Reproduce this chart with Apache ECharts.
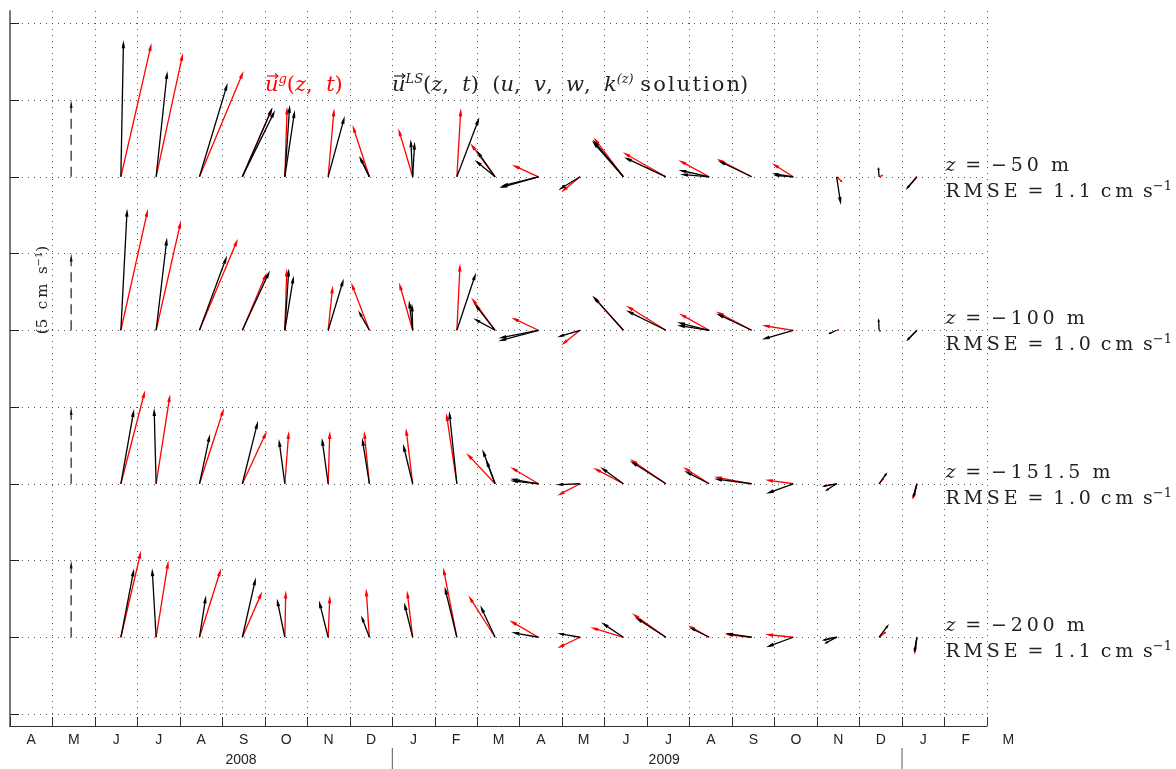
<!DOCTYPE html>
<html><head><meta charset="utf-8">
<script src="https://cdn.jsdelivr.net/npm/echarts@6/dist/echarts.min.js"></script>
<style>html,body{margin:0;padding:0;background:#fff}#c{width:1176px;height:769px}</style>
</head><body><div id="c"></div>
<script>
// ---------- data ----------
const monthLabels = ['A','M','J','J','A','S','O','N','D','J','F','M','A','M','J','J','A','S','O','N','D','J','F','M'];
const yearLabels = ['2008','2009'];
const yearLabelPos = [5.44, 15.4];          // months since 1 Apr 2008
const yearBreaks = [9, 21];                 // 1 Jan 2009, 1 Jan 2010
const sampleTimes = [2.61,3.44,4.46,5.47,6.47,7.49,8.46,9.48,10.52,11.42,12.44,13.42,14.44,15.44,16.46,17.46,18.44,19.46,20.46,21.35];
const depthLabels = ['\u221250','\u2212100','\u2212151.5','\u2212200'];
const rmseLabels = ['1.1','1.0','1.0','1.1'];
const scaleArrowTime = 1.44;
const scaleArrowSpeed = 5;                  // cm/s

// z = -50 m  (u east, v north, cm/s)
const geoU_50 = [2.0,1.75,2.88,1.95,0.15,0.39,-1.1,-0.94,0.26,-1.62,-1.73,-1.23,-1.95,-2.81,-2.01,-2.27,-1.4,0.39,0.26,-0.7];
const geoV_50 = [8.72,8.07,6.9,4.5,4.57,4.46,3.38,3.16,4.46,2.19,0.78,-1.01,2.58,1.6,1.1,1.17,0.89,-0.36,0.11,-0.82];
const lsU_50 = [0.17,0.73,1.84,1.97,0.32,1.08,-0.67,-0.13,1.47,-1.23,-2.55,-1.41,-2.01,-2.73,-2.01,-2.21,-1.4,0.28,-0.05,-0.73];
const lsV_50 = [8.9,6.9,6.12,4.53,4.68,3.96,1.36,2.45,3.88,1.75,-0.73,-0.86,2.43,1.28,0.45,1.06,0.22,-1.84,0.63,-0.86];
const ls2U_50 = [null,null,null,2.14,0.65,null,-0.62,0.13,null,-1.34,-2.49,null,-2.05,null,-1.9,null,-1.3,null,null,null];
const ls2V_50 = [null,null,null,4.35,4.35,null,1.3,2.29,null,1.1,-0.63,null,2.35,null,0.17,null,0.1,null,null,null];

// z = -100 m
const geoU_100 = [1.77,1.62,2.51,1.6,0.13,0.3,-1.19,-0.89,0.21,-1.56,-1.77,-1.23,-1.97,-2.6,-1.97,-2.32,-2.05,0.15,0.1,-0.69];
const geoV_100 = [7.92,7.14,5.97,3.77,4.03,2.92,3.12,3.12,4.35,2.14,0.84,-0.97,2.21,1.62,1.1,1.23,0.32,0.03,-0.1,-0.71];
const lsU_100 = [0.41,0.71,1.8,1.8,0.26,1.02,-0.73,-0.24,1.25,-1.36,-2.62,-1.49,-2.03,-2.6,-2.1,-2.32,-2.05,-0.55,-0.04,-0.69];
const lsV_100 = [7.92,6.04,4.87,3.9,4.03,3.38,1.3,1.95,3.77,1.75,-0.71,-0.45,2.27,1.3,0.52,1.1,-0.6,-0.25,0.78,-0.71];
const ls2U_100 = [null,null,null,null,0.58,null,null,-0.05,null,-1.43,-2.6,null,null,null,-2.1,null,null,null,null,null];
const ls2V_100 = [null,null,null,null,3.57,null,null,1.75,null,0.78,-0.52,null,null,null,0.33,null,null,null,null,null];

// z = -151.5 m
const geoU_151 = [1.58,0.91,1.6,1.6,0.26,0.11,-0.34,-0.44,-0.69,-1.88,-1.84,-1.49,-1.97,-2.34,-1.71,-2.45,-1.84,-0.65,0.32,-0.3];
const geoV_151 = [6.1,5.84,4.94,3.44,3.44,3.44,3.44,3.64,4.61,2.01,1.1,-0.78,1.04,1.62,1.1,0.45,0.26,-0.11,0.39,-1.04];
const lsU_151 = [0.86,-0.13,0.69,1.02,-0.39,-0.41,-0.47,-0.63,-0.5,-0.84,-1.84,-1.56,-1.51,-2.34,-1.64,-2.45,-1.78,-0.97,0.54,-0.26];
const lsV_151 = [4.87,4.94,3.25,4.1,2.92,2.99,2.99,2.6,4.74,2.27,0.32,-0.06,1.1,1.49,0.84,0.32,-0.65,-0.18,0.75,-0.97];
const ls2U_151 = [null,null,null,null,null,null,null,null,null,-0.6,-1.84,null,null,null,null,null,null,-0.76,null,-0.2];
const ls2V_151 = [null,null,null,null,null,null,null,null,null,1.6,0.2,null,null,null,null,null,null,-0.48,null,-0.9];

// z = -200 m
const geoU_200 = [1.32,0.8,1.41,1.3,0.06,0.11,-0.21,-0.37,-0.89,-1.75,-1.9,-1.49,-2.16,-2.21,-1.38,-1.73,-1.84,-0.65,0.48,-0.15];
const geoV_200 = [5.65,5.0,4.48,3.0,3.05,2.73,3.18,3.05,4.55,2.73,1.1,-0.71,0.65,1.56,0.78,0.19,0.19,-0.11,0.37,-1.14];
const lsU_200 = [0.86,-0.26,0.43,0.88,-0.52,-0.6,-0.54,-0.56,-0.8,-0.97,-1.77,-1.49,-1.45,-2.01,-1.32,-1.73,-1.78,-0.97,0.65,-0.19];
const lsV_200 = [4.48,4.5,2.73,3.9,2.53,2.4,1.43,2.27,3.3,2.08,0.32,0.26,0.97,1.3,0.65,0.26,-0.65,-0.21,0.87,-1.01];
const ls2U_200 = [null,null,null,null,null,null,null,null,null,null,null,null,null,null,null,null,null,-0.82,null,-0.12];
const ls2V_200 = [null,null,null,null,null,null,null,null,null,null,null,null,null,null,null,null,null,-0.43,null,-0.95];

// ---------- build ----------
const ROW_BASE = [35, 25, 15, 5];  // baseline of each depth panel, in axis units (cm/s)
const rows = [
  [geoU_50, geoV_50, lsU_50, lsV_50, ls2U_50, ls2V_50],
  [geoU_100, geoV_100, lsU_100, lsV_100, ls2U_100, ls2V_100],
  [geoU_151, geoV_151, lsU_151, lsV_151, ls2U_151, ls2V_151],
  [geoU_200, geoV_200, lsU_200, lsV_200, ls2U_200, ls2V_200]
];
const arrowData = [];
rows.forEach((r, ri) => {
  sampleTimes.forEach((t, i) => {
    arrowData.push([t, ri, r[0][i], r[1][i], 0]);
  });
  sampleTimes.forEach((t, i) => {
    arrowData.push([t, ri, r[2][i], r[3][i], 1]);
    if (r[4][i] != null) arrowData.push([t, ri, r[4][i], r[5][i], 1]);
  });
});

function arrowShape(x0, y0, x1, y1, color, lw, maxHead) {
  const dx = x1 - x0, dy = y1 - y0;
  const L = Math.hypot(dx, dy) || 1;
  const ux = dx / L, uy = dy / L;
  const hl = Math.min(maxHead, L * 0.3), hw = Math.max(1.2, hl * 0.22);
  const bx = x1 - ux * hl, by = y1 - uy * hl;
  return [
    {type: 'line', shape: {x1: x0, y1: y0, x2: x1 - ux * hl * 0.5, y2: y1 - uy * hl * 0.5},
     style: {stroke: color, lineWidth: lw}},
    {type: 'polygon', shape: {points: [[x1, y1], [bx - uy * hw, by + ux * hw], [bx + uy * hw, by - ux * hw]]},
     style: {fill: color}}
  ];
}
// letter spacing to imitate the wide TeX setting
const sp = s => s.split('').join('\u2009');
const hsp = s => s.split('').join('\u200A');
const EQ = '\u2009 = \u2009';

const serif = 'DejaVu Serif';
const chart = echarts.init(document.getElementById('c'), null, {renderer: 'canvas'});
const dotted = {type: [1, 5], color: '#555', width: 1};

function titleRich(color) {
  return {
    u: {fontFamily: serif, fontStyle: 'italic', fontSize: 21, lineHeight: 26, fill: color},
    n: {fontFamily: serif, fontSize: 21, lineHeight: 26, fill: color},
    s: {fontFamily: serif, fontStyle: 'italic', fontSize: 13, lineHeight: 14, verticalAlign: 'top', fill: color}
  };
}
function vecMark(x, y, color) {
  return {type: 'group', z: 10, children: [
    {type: 'line', shape: {x1: x, y1: y, x2: x + 10, y2: y}, style: {stroke: color, lineWidth: 1.2}},
    {type: 'polyline', shape: {points: [[x + 8, y - 2.5], [x + 11, y], [x + 8, y + 2.5]]}, style: {stroke: color, lineWidth: 1.2, fill: null}}
  ]};
}

chart.setOption({
  animation: false,
  backgroundColor: '#fff',
  grid: [
    {left: 10, right: 189, top: 11, bottom: 43},
    {left: 10, right: 189, top: 23.3, bottom: 55}
  ],
  xAxis: [
    {gridIndex: 0, type: 'value', min: 0, max: 23, interval: 1,
     axisLine: {show: true, onZero: false, lineStyle: {color: '#333', width: 1}},
     axisTick: {show: true, inside: true, length: 9, lineStyle: {color: '#333'}},
     axisLabel: {show: true, formatter: v => monthLabels[Math.round(v)] || '', color: '#222',
       fontFamily: 'Liberation Sans', fontSize: 14, margin: 7, padding: [0, 0, 0, 42.5],
       showMinLabel: true, showMaxLabel: true, hideOverlap: false},
     splitLine: {show: true, lineStyle: dotted}},
    {gridIndex: 1, type: 'value', min: 0, max: 23, show: false}
  ],
  yAxis: [
    {gridIndex: 0, type: 'value', min: -0.78, max: 45.83,
     axisLine: {show: true, onZero: false, lineStyle: {color: '#7a7a7a', width: 2}},
     axisTick: {show: false}, axisLabel: {show: false}, splitLine: {show: false}},
    {gridIndex: 1, type: 'value', min: 0, max: 45, interval: 5,
     axisLine: {show: false},
     axisTick: {show: true, inside: true, length: 9, lineStyle: {color: '#222'}},
     axisLabel: {show: false},
     splitLine: {show: true, lineStyle: dotted}}
  ],
  graphic: [
    {type: 'text', left: 265, top: 73, z: 10,
     style: {text: '{u|u}{s|g}{n|(}{u|z}{n|,  }{u|t}{n|)}', fill: '#ff0000', rich: titleRich('#ff0000')}},
    vecMark(267, 76, '#ff0000'),
    {type: 'text', left: 392, top: 73, z: 10,
     style: {text: '{u|u}{s|LS}{n|(}{u|z}{n|,  }{u|t}{n|)  (}{u|u}{n|,  }{u|v}{n|,  }{u|w}{n|,  }{u|k}{s|(z)}{n| ' + hsp('solution') + ')}',
       fill: '#222', rich: titleRich('#222')}},
    vecMark(394, 76, '#222'),
    {type: 'text', x: 43, y: 290, rotation: Math.PI / 2, z: 10,
     style: {text: '{n|(5  ' + sp('cm') + '  s}{s|\u22121}{n|)}', align: 'center', verticalAlign: 'middle', fill: '#222',
       rich: {
         n: {fontFamily: serif, fontSize: 15, lineHeight: 18, fill: '#222'},
         s: {fontFamily: serif, fontSize: 10, lineHeight: 10, verticalAlign: 'top', fill: '#222'}
       }}}
  ],
  series: [
    { // year labels and separators
      type: 'custom', xAxisIndex: 0, yAxisIndex: 0, clip: false, silent: true,
      data: yearLabelPos.map((t, i) => [t, i, 0]).concat(yearBreaks.map((t, i) => [t, i, 1])),
      renderItem(params, api) {
        const kind = api.value(2);
        const p = api.coord([api.value(0), -0.78]);
        if (kind === 0) {
          return {type: 'text', x: p[0], y: p[1] + 34,
            style: {text: yearLabels[api.value(1)], align: 'center', verticalAlign: 'middle',
              font: '14px "Liberation Sans"', fill: '#222'}};
        }
        return {type: 'line', shape: {x1: p[0], y1: p[1] + 22, x2: p[0], y2: p[1] + 43},
          style: {stroke: '#555', lineWidth: 1}};
      }
    },
    { // scale arrows (5 cm/s)
      type: 'custom', xAxisIndex: 1, yAxisIndex: 1, clip: false, silent: true,
      data: ROW_BASE.map((b, i) => [scaleArrowTime, i]),
      renderItem(params, api) {
        const b = ROW_BASE[api.value(1)];
        const p0 = api.coord([api.value(0), b]);
        const p1 = api.coord([api.value(0), b + scaleArrowSpeed]);
        return {type: 'group', children: [
          {type: 'line', shape: {x1: p0[0], y1: p0[1], x2: p1[0], y2: p1[1] + 6},
           style: {stroke: '#555', lineWidth: 1.6, lineDash: [10, 6]}},
          {type: 'polygon', shape: {points: [[p1[0], p1[1]], [p1[0] - 1.4, p1[1] + 8], [p1[0] + 1.4, p1[1] + 8]]},
           style: {fill: '#111'}}
        ]};
      }
    },
    { // depth / RMSE labels
      type: 'custom', xAxisIndex: 1, yAxisIndex: 1, clip: false, silent: true,
      data: ROW_BASE.map((b, i) => [22.0, i]),
      renderItem(params, api) {
        const r = api.value(1);
        const p = api.coord([api.value(0), ROW_BASE[r]]);
        const rich = {
          u: {fontFamily: serif, fontStyle: 'italic', fontSize: 19, lineHeight: 24, fill: '#222'},
          n: {fontFamily: serif, fontSize: 19, lineHeight: 24, fill: '#222'},
          s: {fontFamily: serif, fontSize: 13, lineHeight: 12, verticalAlign: 'top', fill: '#222'}
        };
        return {type: 'group', children: [
          {type: 'text', x: p[0] + 1, y: p[1] - 11,
           style: {text: '{u|z}{n|' + EQ + sp(depthLabels[r]) + '  m}', verticalAlign: 'middle', rich}},
          {type: 'text', x: p[0] + 1, y: p[1] + 15,
           style: {text: '{n|' + sp('RMSE') + EQ + sp(rmseLabels[r]) + ' \u2009' + sp('cm') + ' \u2009s}{s|\u22121}', verticalAlign: 'middle', rich}}
        ]};
      }
    },
    { // current vectors
      type: 'custom', xAxisIndex: 1, yAxisIndex: 1, clip: false, silent: true,
      data: arrowData,
      renderItem(params, api) {
        const row = api.value(1), u = api.value(2), v = api.value(3), kind = api.value(4);
        const p = api.coord([api.value(0), ROW_BASE[row]]);
        const s = api.size([0, 1])[1];      // pixels per cm/s (equal aspect)
        const color = kind === 0 ? '#ff0000' : '#000000';
        return {type: 'group', children: arrowShape(p[0], p[1], p[0] + u * s, p[1] - v * s, color, 1.3, 8)};
      }
    }
  ]
});
</script></body></html>
